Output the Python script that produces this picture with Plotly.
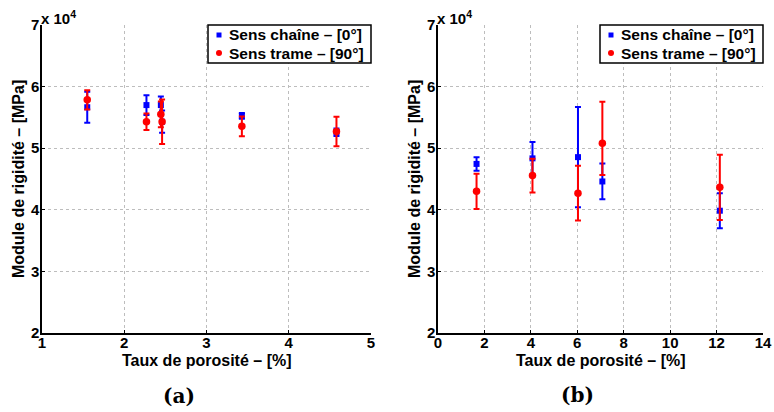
import plotly.graph_objects as go

# ---------------- data (MPa) ----------------
# (a) porosity range 1-5 %
x_a_chaine = [1.55, 2.27, 2.445, 2.46, 3.43, 4.58]
y_a_chaine = [56650, 57000, 57000, 54300, 55250, 52600]
e_a_chaine = [2500, 1600, 1400, 1800, 450, 600]

x_a_trame = [1.55, 2.27, 2.445, 2.46, 3.43, 4.58]
y_a_trame = [57850, 54300, 55500, 54300, 53550, 52700]
e_a_trame = [1550, 1350, 2100, 3600, 1600, 2400]

# (b) porosity range 0-14 %
x_b_chaine = [1.66, 4.07, 6.03, 7.08, 12.14]
y_b_chaine = [47450, 48350, 48550, 44600, 39850]
e_b_chaine = [1100, 2650, 8150, 2900, 2850]

x_b_trame = [1.66, 4.07, 6.03, 7.08, 12.14]
y_b_trame = [43000, 45550, 42700, 50800, 43650]
e_b_trame_plus = [2850, 2750, 4450, 6750, 5300]
e_b_trame_minus = [2850, 2750, 4450, 5150, 5300]

y_ticks = [20000, 30000, 40000, 50000, 60000, 70000]
y_ticktext = ["2", "3", "4", "5", "6", "7"]
xa_ticks = [1, 2, 3, 4, 5]
xb_ticks = [0, 2, 4, 6, 8, 10, 12, 14]

name_chaine = "Sens chaîne – [0°]"
name_trame = "Sens trame – [90°]"
x_title = "Taux de porosité – [%]"
y_title = "Module de rigidité – [MPa]"
panel_labels = ["(a)", "(b)"]

BLUE = "#0000ff"
RED = "#ff0000"
FONT = "Liberation Sans"
W, H = 774, 412

fig = go.Figure()


def add_pair(xc, yc, ec, xt, yt, etp, etm, xa, ya):
    fig.add_trace(go.Scatter(
        x=xc, y=yc, mode="markers", name=name_chaine, showlegend=False,
        xaxis=xa, yaxis=ya,
        marker=dict(symbol="square", size=6, color=BLUE),
        error_y=dict(type="data", array=ec, color=BLUE, thickness=2, width=3),
    ))
    fig.add_trace(go.Scatter(
        x=xt, y=yt, mode="markers", name=name_trame, showlegend=False,
        xaxis=xa, yaxis=ya,
        marker=dict(symbol="circle", size=7.5, color=RED),
        error_y=dict(type="data", array=etp, arrayminus=etm, color=RED,
                     thickness=2, width=3),
    ))


add_pair(x_a_chaine, y_a_chaine, e_a_chaine, x_a_trame, y_a_trame,
         e_a_trame, e_a_trame, "x", "y")
add_pair(x_b_chaine, y_b_chaine, e_b_chaine, x_b_trame, y_b_trame,
         e_b_trame_plus, e_b_trame_minus, "x2", "y2")

tickfont = dict(family=FONT, size=15, color="black", weight="bold")
common_ax = dict(
    showline=True, linecolor="black", linewidth=1.5, mirror=False,
    ticks="inside", ticklen=3, tickwidth=1, tickcolor="black",
    showgrid=True, gridcolor="#bdbdbd", griddash="dot", gridwidth=1,
    zeroline=False, tickfont=tickfont, automargin=False,
)
x_extra = dict(ticklabelstandoff=-5)
y_extra = dict(ticklabelstandoff=-2)


def px_x(p):
    return p / W


def px_y(p):
    return (H - p) / H


ax_left = (px_x(42), px_x(371))
ax_right = (px_x(438), px_x(763))
ax_y = (px_y(333), px_y(25))

fig.update_layout(
    width=W, height=H,
    margin=dict(l=0, r=0, t=0, b=0),
    paper_bgcolor="white", plot_bgcolor="white",
    showlegend=False,
    xaxis=dict(domain=list(ax_left), range=[1, 5], tickvals=xa_ticks, anchor="y",
               **common_ax, **x_extra),
    yaxis=dict(domain=list(ax_y), range=[20000, 70000], tickvals=y_ticks,
               ticktext=y_ticktext, anchor="x", **common_ax, **y_extra),
    xaxis2=dict(domain=list(ax_right), range=[0, 14], tickvals=xb_ticks, anchor="y2",
                **common_ax, **x_extra),
    yaxis2=dict(domain=list(ax_y), range=[20000, 70000], tickvals=y_ticks,
                ticktext=y_ticktext, anchor="x2", **common_ax, **y_extra),
)

ann_font = dict(family=FONT, size=16, color="black", weight="bold")
leg_font = dict(family=FONT, size=15.5, color="black", weight="bold")
annotations = []
shapes = []
label_pos = [(178.5, 396), (577, 395)]
for (x0, x1), lab, (lx, ly) in zip([ax_left, ax_right], panel_labels, label_pos):
    cx = (x0 + x1) / 2
    annotations.append(dict(text=x_title, x=cx, y=px_y(360), xref="paper", yref="paper",
                            showarrow=False, font=ann_font, xanchor="center", yanchor="middle"))
    annotations.append(dict(text=y_title, x=x0 - px_x(24), y=(ax_y[0] + ax_y[1]) / 2,
                            xref="paper", yref="paper", textangle=-90,
                            showarrow=False, font=ann_font, xanchor="center", yanchor="middle"))
    annotations.append(dict(text="x 10<sup>4</sup>", x=x0 - px_x(3), y=px_y(29),
                            xref="paper", yref="paper",
                            showarrow=False, font=dict(family=FONT, size=15, color="black", weight="bold"),
                            xanchor="left", yanchor="bottom"))
    annotations.append(dict(text=lab, x=px_x(lx), y=px_y(ly), xref="paper", yref="paper",
                            showarrow=False, xanchor="center", yanchor="middle",
                            font=dict(family="DejaVu Serif", size=20, color="black", weight="bold")))
    # legend box (drawn manually for a compact MATLAB-like legend)
    bx1 = x1
    bx0 = x1 - px_x(163)
    shapes.append(dict(type="rect", xref="paper", yref="paper", x0=bx0, x1=bx1,
                       y0=px_y(63), y1=px_y(25), line=dict(color="black", width=1.5),
                       fillcolor="white", layer="above"))
    mx = bx0 + px_x(11)
    for name, row, col, sym in [(name_chaine, 35, BLUE, "square"), (name_trame, 53, RED, "circle")]:
        if sym == "square":
            shapes.append(dict(type="rect", xref="paper", yref="paper",
                               x0=mx - px_x(2.5), x1=mx + px_x(2.5),
                               y0=px_y(row + 2.5), y1=px_y(row - 2.5),
                               line=dict(width=0), fillcolor=col, layer="above"))
        else:
            shapes.append(dict(type="circle", xref="paper", yref="paper",
                               x0=mx - px_x(3), x1=mx + px_x(3),
                               y0=px_y(row + 3), y1=px_y(row - 3),
                               line=dict(width=0), fillcolor=col, layer="above"))
        annotations.append(dict(text=name, x=bx0 + px_x(19), y=px_y(row), xref="paper", yref="paper",
                                showarrow=False, font=leg_font, xanchor="left", yanchor="middle"))

fig.update_layout(annotations=annotations, shapes=shapes)

fig.write_html("out.html", config={"displayModeBar": False},
               post_script="document.body.style.margin='0';document.body.style.overflow='hidden';")
